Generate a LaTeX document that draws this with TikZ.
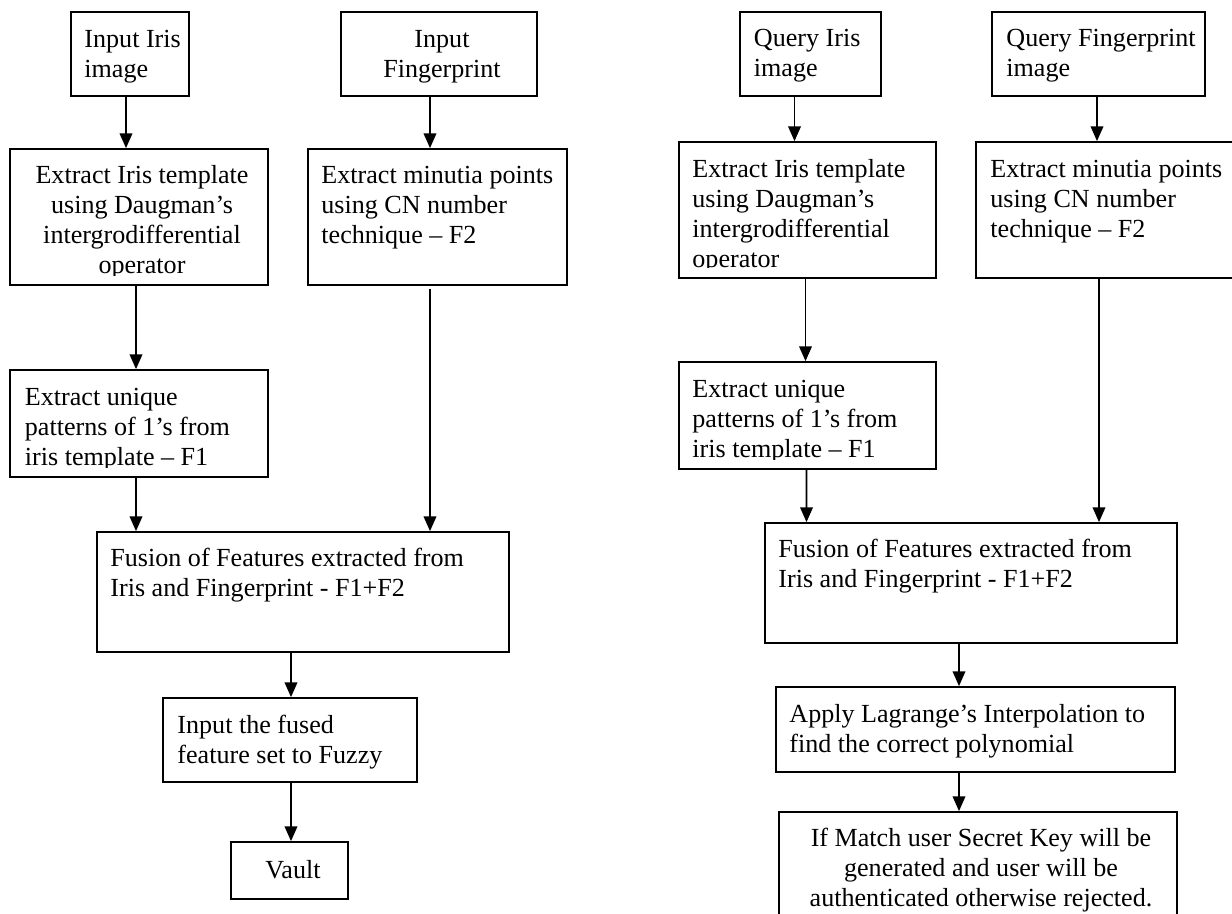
\documentclass[tikz,border=0pt]{standalone}
\usepackage{fontspec}
\setmainfont{Liberation Serif}
\usetikzlibrary{arrows.meta,positioning,calc,fit}

\begin{document}
\begin{tikzpicture}[x=0.46pt,y=-0.46pt,
  stepbox/.style={draw,line width=0.8pt,inner sep=0pt},
  txt/.style={inner sep=0pt,anchor=north west,align=left,font=\fontsize{12}{13.8}\selectfont},
  ctxt/.style={txt,anchor=north,align=center},
  arr/.style={-{Triangle[length=6.8pt,width=5.8pt]},line width=0.8pt}]
\useasboundingbox (0,0) rectangle (1232,913);
\clip (0,0) rectangle (1232,913);

% enrolment
\node[stepbox,fit={(71,12) (189,96)}] (inIris) {};
\node[txt] (inIrisTxt) at (84,26) {\strut Input Iris\\image};
\node[stepbox,fit={(341,12) (537,96)}] (inFinger) {};
\node[ctxt] (inFingerTxt) at (442,26) {\strut Input\\Fingerprint};

\node[stepbox,fit={(10,149) (268,285)}] (tmplL) {};
\begin{scope}
\clip (10,149) rectangle (268,275);
\node[ctxt] (tmplLTxt) at (142,162) {\strut Extract Iris template\\using Daugman’s\\intergrodifferential\\operator};
\end{scope}
\node[stepbox,fit={(308,149) (567,285)}] (minutiaL) {};
\node[txt] (minutiaLTxt) at (321,162) {\strut Extract minutia points\\using CN number\\technique – F2};

\node[stepbox,fit={(10,370) (268,477)}] (uniqueL) {};
\begin{scope}
\clip (10,370) rectangle (268,467);
\node[txt] (uniqueLTxt) at (24.5,384) {\strut Extract unique\\patterns of 1’s from\\iris template – F1};
\end{scope}

\node[stepbox,fit={(97,532) (509,652)}] (fusionL) {};
\node[txt] (fusionLTxt) at (110,545) {\strut Fusion of Features extracted from\\Iris and Fingerprint - F1+F2};
\node[stepbox,fit={(163,698) (417,782)}] (fusedL) {};
\node[txt] (fusedLTxt) at (177,712) {\strut Input the fused\\feature set to Fuzzy};
\node[stepbox,fit={(231,842) (348,899)}] (vault) {};
\node[ctxt] (vaultTxt) at (293,857) {\strut Vault};

\draw[arr] ($(inIris.south)+(-4,0)$) -- ($(tmplL.north)+(-13,0)$);
\draw[arr] ($(inFinger.south)+(-9,0)$) -- ($(minutiaL.north)+(-7.5,0)$);
\draw[arr] ($(tmplL.south)+(-3,0)$) -- ($(uniqueL.north)+(-3,0)$);
\draw[arr] ($(minutiaL.south)+(-7.5,3)$) -- ($(fusionL.north)+(127,0)$);
\draw[arr] ($(uniqueL.south)+(-3,0)$) -- ($(fusionL.north)+(-167,0)$);
\draw[arr] ($(fusionL.south)+(-12,0)$) -- ($(fusedL.north)+(1,0)$);
\draw[arr] ($(fusedL.south)+(1,0)$) -- ($(vault.north)+(1.5,0)$);

% query
\node[stepbox,fit={(740,12) (881,96)}] (qIris) {};
\node[txt] (qIrisTxt) at (753.5,25) {\strut Query Iris\\image};
\node[stepbox,fit={(992,12) (1205,96)}] (qFinger) {};
\node[txt] (qFingerTxt) at (1006,25) {\strut Query Fingerprint\\image};

\node[stepbox,fit={(679,142) (936,278)}] (tmplR) {};
\begin{scope}
\clip (679,142) rectangle (936,267);
\node[txt] (tmplRTxt) at (692,156) {\strut Extract Iris template\\using Daugman’s\\intergrodifferential\\operator};
\end{scope}
\node[stepbox,fit={(976,142) (1245,278)}] (minutiaR) {};
\node[txt] (minutiaRTxt) at (990,156) {\strut Extract minutia points\\using CN number\\technique – F2};

\node[stepbox,fit={(679,362) (936,469)}] (uniqueR) {};
\begin{scope}
\clip (679,362) rectangle (936,459);
\node[txt] (uniqueRTxt) at (692,376) {\strut Extract unique\\patterns of 1’s from\\iris template – F1};
\end{scope}

\node[stepbox,fit={(765,523) (1177,643)}] (fusionR) {};
\node[txt] (fusionRTxt) at (778,536) {\strut Fusion of Features extracted from\\Iris and Fingerprint - F1+F2};
\node[stepbox,fit={(776,687) (1175,772)}] (lagrange) {};
\node[txt] (lagrangeTxt) at (789,701) {\strut Apply Lagrange’s Interpolation to\\find the correct polynomial};
\node[stepbox,fit={(779,812) (1177,930)}] (match) {};
\node[ctxt] (matchTxt) at (981,825) {\strut If Match user Secret Key will be\\generated and user will be\\authenticated otherwise rejected.};

\draw[arr] ($(qIris.south)+(-16,0)$) -- ($(tmplR.north)+(-13,0)$);
\draw[arr] ($(qFinger.south)+(-1.5,0)$) -- ($(minutiaR.north)+(-13.5,0)$);
\draw[arr] ($(tmplR.south)+(-2,0)$) -- ($(uniqueR.north)+(-2,0)$);
\draw[arr] ($(uniqueR.south)+(-1,0)$) -- ($(fusionR.north)+(-164.5,0)$);
\draw[arr] ($(minutiaR.south)+(-11.5,0)$) -- ($(fusionR.north)+(128,0)$);
\draw[arr] ($(fusionR.south)+(-12,0)$) -- ($(lagrange.north)+(-16.5,0)$);
\draw[arr] ($(lagrange.south)+(-16.5,0)$) -- ($(match.north)+(-19,0)$);
\end{tikzpicture}
\end{document}
